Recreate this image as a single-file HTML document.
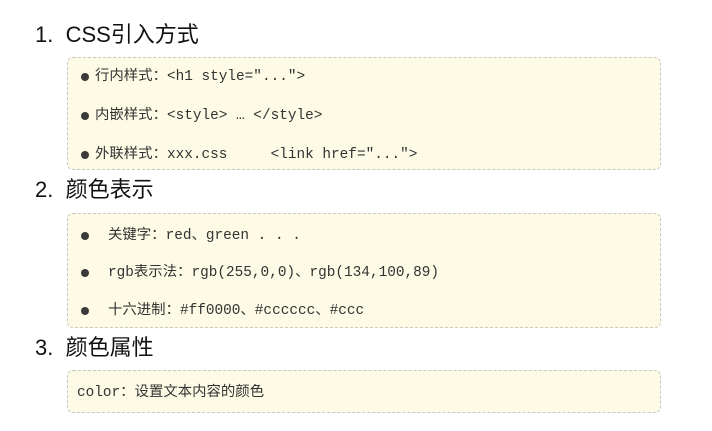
<!DOCTYPE html>
<html><head><meta charset="utf-8"><style>
body{margin:0;width:712px;height:431px;background:#fff;position:relative;overflow:hidden;font-family:"Liberation Mono","Noto Sans CJK SC",monospace;color:#333}
.h{position:absolute;left:35px;font-family:"Liberation Sans","Noto Sans CJK SC",sans-serif;font-size:22px;color:#111;line-height:24px}
.box{position:absolute;left:67px;width:592px;background:#fdfbe5;border:1px dashed #c8c8c0;border-radius:6px}
.t{position:absolute;font-size:14.4px;line-height:18px;white-space:pre}
.b{position:absolute;width:8px;height:8px;border-radius:50%;background:#3a3a3a}
</style></head><body>
<div class="h" style="top:23px">1.&nbsp; CSS引入方式</div>
<div class="box" style="top:57px;height:111px"></div>
<div class="b" style="left:81px;top:73px"></div><div class="t" style="left:95px;top:68px">行内样式：&lt;h1 style="..."&gt;</div>
<div class="b" style="left:81px;top:112px"></div><div class="t" style="left:95px;top:107px">内嵌样式：&lt;style&gt; … &lt;/style&gt;</div>
<div class="b" style="left:81px;top:151px"></div><div class="t" style="left:95px;top:146px">外联样式：xxx.css     &lt;link href="..."&gt;</div>
<div class="h" style="top:178px">2.&nbsp; 颜色表示</div>
<div class="box" style="top:213px;height:113px"></div>
<div class="b" style="left:81px;top:232px"></div><div class="t" style="left:108px;top:227px">关键字：red、green . . .</div>
<div class="b" style="left:81px;top:269px"></div><div class="t" style="left:108px;top:264px">rgb表示法：rgb(255,0,0)、rgb(134,100,89)</div>
<div class="b" style="left:81px;top:307px"></div><div class="t" style="left:108px;top:302px">十六进制：#ff0000、#cccccc、#ccc</div>
<div class="h" style="top:336px">3.&nbsp; 颜色属性</div>
<div class="box" style="top:370px;height:41px"></div>
<div class="t" style="left:77px;top:384px">color：设置文本内容的颜色</div>
</body></html>
